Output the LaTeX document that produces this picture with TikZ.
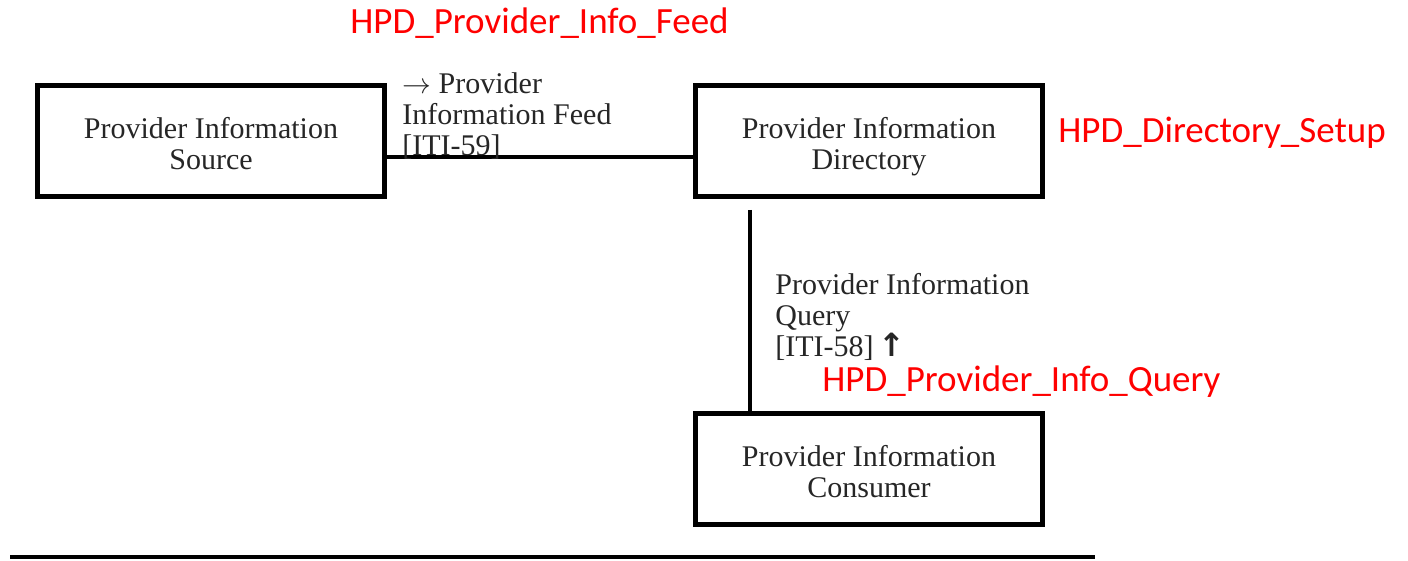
\documentclass[tikz,border=0pt]{standalone}
\usepackage{fontspec}
\setmainfont{Liberation Serif}
\newfontfamily\redfont{Carlito}
\newfontfamily\arrowfont{DejaVu Sans}
\newcommand\topstrut{\rule{0pt}{17.85pt}}
\begin{document}
\begin{tikzpicture}[x=0.5pt,y=-0.5pt,
  box/.style={draw=black, line width=2.5pt, minimum width=173.5pt, minimum height=55.5pt, inner sep=0pt, align=center, text=black!85, font=\fontsize{15}{15.5}\selectfont},
  conn/.style={draw=black, line width=1.6pt},
  lbl/.style={inner sep=0pt, align=left, text=black!85, font=\fontsize{15}{15.5}\selectfont},
  redlbl/.style={inner sep=0pt, text=red, font=\redfont\fontsize{18.5}{20}\selectfont}]
\useasboundingbox (0,0) rectangle (1408,561);
\node[box] (src) at (211,141) {\topstrut Provider Information\\Source\strut};
\node[box] (dir) at (869,141) {\topstrut Provider Information\\Directory\strut};
\node[box] (cons) at (869,469) {\topstrut Provider Information\\Consumer\strut};
\coordinate (hy) at (0,157);
\coordinate (vtop) at (750,210);
\draw[conn] (src.east |- hy) -- (dir.west |- hy);
\draw[conn] (vtop) -- (vtop |- cons.north);
\node[lbl, anchor=north west] (feedlbl) at (402,72) {$\rightarrow$ Provider\\Information Feed\\{[}ITI-59{]}};
\node[lbl, anchor=north west] (querylbl) at (775,273) {Provider Information\\Query\\{[}ITI-58{]}\,{\arrowfont\bfseries\fontsize{16}{16}\selectfont ↑}};
\node[redlbl, anchor=base west] (feedred) at (350,34) {HPD\_Provider\_Info\_Feed};
\node[redlbl, anchor=base west] (dirred) at (1058,143) {HPD\_Directory\_Setup};
\node[redlbl, anchor=base west] (queryred) at (822,391) {HPD\_Provider\_Info\_Query};
\coordinate (rl) at (10,557);
\coordinate (rr) at (1095,557);
\draw[line width=2pt] (rl) -- (rr);
\end{tikzpicture}
\end{document}
